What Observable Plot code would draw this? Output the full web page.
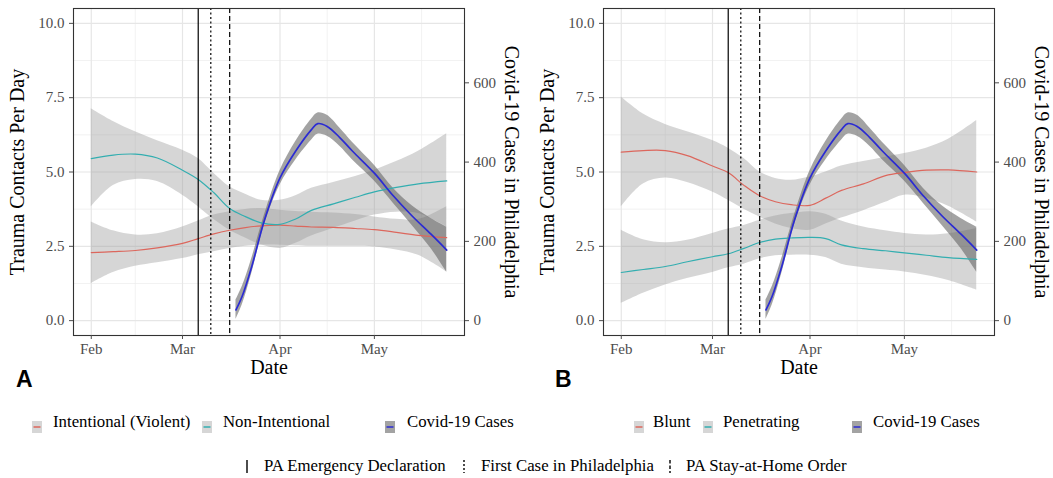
<!DOCTYPE html>
<html>
<head>
<meta charset="utf-8">
<script src="https://cdn.jsdelivr.net/npm/d3@7"></script>
<script src="https://cdn.jsdelivr.net/npm/@observablehq/plot@0.6"></script>
<style>
  html, body { margin: 0; padding: 0; background: #fff; }
  #root { position: relative; width: 1053px; height: 478px; overflow: hidden; font-family: "Liberation Serif", "Times New Roman", serif; }
  .abs { position: absolute; }
  .lbl { position: absolute; font-family: "Liberation Sans", Arial, sans-serif; font-weight: bold; font-size: 23px; line-height: normal; color: #000; }
  .legtxt { position: absolute; font-family: "Liberation Serif", "Times New Roman", serif; font-size: 16.8px; line-height: normal; color: #000; white-space: nowrap; }
</style>
</head>
<body>
<div id="root">
  <div id="panelA" class="abs" style="left:0;top:0"></div>
  <div id="panelB" class="abs" style="left:527px;top:0"></div>
  <div class="lbl" style="left:16px;top:366px">A</div>
  <div class="lbl" style="left:555px;top:366px">B</div>
  <div id="legend"></div>
</div>
<script>
// ---------- data ----------
const traumaDates = ["2020-02-01","2020-02-08","2020-02-15","2020-02-22","2020-03-01","2020-03-06","2020-03-11","2020-03-16","2020-03-21","2020-03-26","2020-04-01","2020-04-06","2020-04-11","2020-04-18","2020-04-25","2020-05-01","2020-05-08","2020-05-15","2020-05-24"];

// Panel A
const intentional    = [2.29,2.32,2.36,2.45,2.60,2.76,2.92,3.04,3.13,3.19,3.21,3.18,3.15,3.14,3.10,3.06,2.97,2.87,2.79];
const intentionalLo  = [1.25,1.62,1.83,1.95,2.09,2.22,2.32,2.43,2.50,2.54,2.54,2.52,2.50,2.50,2.50,2.48,2.38,2.20,1.64];
const intentionalHi  = [3.32,3.02,2.88,2.92,3.15,3.35,3.55,3.66,3.74,3.77,3.71,3.67,3.65,3.62,3.57,3.49,3.41,3.40,3.83];
const nonIntentional   = [5.45,5.57,5.60,5.47,5.06,4.75,4.30,3.77,3.50,3.29,3.24,3.42,3.71,3.93,4.15,4.33,4.48,4.60,4.70];
const nonIntentionalLo = [3.83,4.55,4.75,4.68,4.22,3.83,3.40,3.04,2.78,2.55,2.43,2.60,2.85,3.10,3.35,3.55,3.65,3.60,3.15];
const nonIntentionalHi = [7.13,6.70,6.35,6.05,5.73,5.45,4.95,4.50,4.25,4.05,4.05,4.20,4.45,4.65,4.85,5.06,5.35,5.70,6.29];

// Panel B
const blunt    = [5.67,5.72,5.72,5.55,5.20,4.98,4.55,4.20,4.00,3.90,3.88,4.12,4.38,4.60,4.88,4.98,5.06,5.07,5.00];
const bluntLo  = [3.83,4.60,4.80,4.65,4.33,4.05,3.75,3.49,3.25,3.10,3.04,3.25,3.45,3.70,3.98,4.22,4.12,3.85,3.32];
const bluntHi  = [7.52,6.95,6.60,6.35,6.06,5.80,5.45,5.00,4.78,4.72,4.83,5.00,5.20,5.35,5.50,5.62,5.80,6.10,6.73];
const penetrating   = [1.62,1.72,1.82,1.98,2.15,2.25,2.43,2.63,2.74,2.78,2.80,2.76,2.55,2.42,2.35,2.28,2.20,2.12,2.06];
const penetratingLo = [0.58,0.92,1.20,1.42,1.62,1.78,1.90,2.08,2.18,2.20,2.20,2.12,1.90,1.78,1.70,1.64,1.52,1.35,1.03];
const penetratingHi = [3.04,2.72,2.62,2.70,2.93,3.08,3.20,3.38,3.52,3.60,3.66,3.58,3.35,3.15,3.02,2.93,2.88,2.92,3.10];

// Covid-19 cases in Philadelphia (smoothed)
const covidDates = ["2020-03-18","2020-03-20","2020-03-23","2020-03-27","2020-04-01","2020-04-06","2020-04-11","2020-04-13","2020-04-16","2020-04-20","2020-04-24","2020-05-01","2020-05-07","2020-05-13","2020-05-19","2020-05-24"];
const covidCases = [27, 62, 136, 252, 360, 428, 482, 497, 490, 462, 428, 372, 315, 264, 218, 178];
const covidLo    = [ 3, 40, 118, 240, 342, 405, 455, 470, 465, 440, 406, 352, 296, 240, 182, 122];
const covidHi    = [52, 86, 156, 265, 378, 452, 508, 524, 518, 486, 450, 392, 334, 290, 258, 236];

// Events
const eventDates  = ["2020-03-06","2020-03-10","2020-03-16"];
const eventNames  = ["PA Emergency Declaration","First Case in Philadelphia","PA Stay-at-Home Order"];

// Scales / ticks
const yTicks      = [0, 2.5, 5, 7.5, 10];
const yMinor      = [1.25, 3.75, 6.25, 8.75];
const caseTicks   = [0, 200, 400, 600];
const CASE_SCALE  = 75;  // 1 trauma contact/day on left axis = 75 cases on right axis
const monthTicks  = ["2020-02-01","2020-03-01","2020-04-01","2020-05-01"];
const monthMinor  = ["2020-02-15","2020-03-16","2020-04-16","2020-05-16"];

// Legend labels
const seriesA = ["Intentional (Violent)", "Non-Intentional"];
const seriesB = ["Blunt", "Penetrating"];
const covidLabel = "Covid-19 Cases";
const RED = "#dc675d", CYAN = "#33aeb0", BLUE = "#2b2bd3";

// ---------- helpers ----------
const parse = s => new Date(s + "T00:00:00Z");
function traumaTable(names, vals, los, his) {
  const rows = [];
  names.forEach((name, k) => {
    traumaDates.forEach((d, i) => rows.push({group: name, date: parse(d), value: vals[k][i], lo: los[k][i], hi: his[k][i]}));
  });
  return rows;
}
const covid = covidDates.map((d, i) => ({date: parse(d), cases: covidCases[i], lo: covidLo[i], hi: covidHi[i]}));

const allDates = traumaDates.map(parse);
const [dMin, dMax] = d3.extent(allDates);
const pad = (dMax - dMin) * 0.05;
const xDomain = [new Date(+dMin - pad), new Date(+dMax + pad)];

function panel(rows, names, opts) {
  const H = 392, bottom = 335;
  const curve = "catmull-rom";
  const axisCommon = {tickSize: 4, tickPadding: 5, color: "#4d4d4d", fontSize: 15, label: null};
  return Plot.plot({
    width: opts.width, height: H,
    marginTop: 8, marginBottom: H - bottom,
    marginLeft: opts.marginLeft, marginRight: opts.marginRight,
    style: {fontFamily: "'Liberation Serif', 'Times New Roman', serif", fontSize: "15px", background: "white", color: "#000", overflow: "visible"},
    x: {type: "utc", domain: xDomain, axis: null},
    y: {domain: [-0.5, 10.5], axis: null},
    color: {domain: names, range: [RED, CYAN]},
    marks: [
      Plot.ruleY(yMinor, {stroke: "#ececec", strokeWidth: 0.7}),
      Plot.ruleX(monthMinor.map(parse), {stroke: "#ececec", strokeWidth: 0.7}),
      Plot.ruleY(yTicks, {stroke: "#e6e6e6", strokeWidth: 1.2}),
      Plot.ruleX(monthTicks.map(parse), {stroke: "#e6e6e6", strokeWidth: 1.2}),
      Plot.areaY(rows, {x: "date", y1: "lo", y2: "hi", z: "group", fill: "#999", fillOpacity: 0.4, curve}),
      Plot.areaY(covid, {x: "date", y1: d => d.lo / CASE_SCALE, y2: d => d.hi / CASE_SCALE, fill: "#666", fillOpacity: 0.6, curve}),
      Plot.line(rows, {x: "date", y: "value", z: "group", stroke: "group", strokeWidth: 1.2, curve}),
      Plot.line(covid, {x: "date", y: d => d.cases / CASE_SCALE, stroke: BLUE, strokeWidth: 1.7, curve}),
      Plot.ruleX([parse(eventDates[0])], {stroke: "#000", strokeWidth: 1.2}),
      Plot.ruleX([parse(eventDates[1])], {stroke: "#000", strokeWidth: 1.2, strokeDasharray: "2,2.5"}),
      Plot.ruleX([parse(eventDates[2])], {stroke: "#000", strokeWidth: 1.2, strokeDasharray: "5,3"}),
      Plot.frame({stroke: "#333", strokeWidth: 1.1}),
      // left axis
      Plot.axisY(yTicks, {...axisCommon, anchor: "left", tickFormat: d3.format(".1f")}),
      // right (secondary) axis
      Plot.axisY(caseTicks.map(v => v / CASE_SCALE), {...axisCommon, anchor: "right", tickFormat: d => String(Math.round(d * CASE_SCALE))}),
      // x axis
      Plot.axisX(monthTicks.map(parse), {...axisCommon, anchor: "bottom", tickPadding: 4, tickFormat: d3.utcFormat("%b")}),
      // titles
      Plot.text(["Trauma Contacts Per Day"], {frameAnchor: "left", textAnchor: "middle", rotate: -90, dx: -56, fontSize: 20, fill: "#000"}),
      Plot.text(["Covid-19 Cases in Philadelphia"], {frameAnchor: "right", textAnchor: "middle", rotate: 90, dx: 47, fontSize: 20, fill: "#000"}),
      Plot.text(["Date"], {frameAnchor: "bottom", dy: 38, fontSize: 20, fill: "#000"})
    ]
  });
}

const rowsA = traumaTable(seriesA, [intentional, nonIntentional], [intentionalLo, nonIntentionalLo], [intentionalHi, nonIntentionalHi]);
const rowsB = traumaTable(seriesB, [blunt, penetrating], [bluntLo, penetratingLo], [bluntHi, penetratingHi]);

document.getElementById("panelA").appendChild(panel(rowsA, seriesA, {width: 527, marginLeft: 73, marginRight: 63}));
document.getElementById("panelB").appendChild(panel(rowsB, seriesB, {width: 526, marginLeft: 76, marginRight: 59}));

// ---------- legends ----------
const legend = document.getElementById("legend");
function addKey(left, top, svgInner, w, h) {
  const s = document.createElementNS("http://www.w3.org/2000/svg", "svg");
  s.setAttribute("width", w); s.setAttribute("height", h);
  s.style.position = "absolute"; s.style.left = left + "px"; s.style.top = top + "px";
  s.innerHTML = svgInner;
  legend.appendChild(s);
}
function addText(left, top, text) {
  const d = document.createElement("div");
  d.className = "legtxt"; d.style.left = left + "px"; d.style.top = top + "px";
  d.textContent = text;
  legend.appendChild(d);
}
function swatch(left, color, dark) {
  const fill = dark ? "#a3a3a3" : "#d6d6d6";
  addKey(left, 421, `<rect x="0" y="0" width="10" height="12" fill="${fill}"/><line x1="1.5" x2="8.5" y1="6" y2="6" stroke="${color}" stroke-width="1.5"/>`, 10, 12);
}
const row1 = [
  {key: 32,  text: 53,  label: seriesA[0], color: RED},
  {key: 202, text: 223, label: seriesA[1], color: CYAN},
  {key: 385, text: 407, label: covidLabel, color: BLUE, dark: true},
  {key: 634, text: 653, label: seriesB[0], color: RED},
  {key: 703, text: 723, label: seriesB[1], color: CYAN},
  {key: 852, text: 873, label: covidLabel, color: BLUE, dark: true}
];
row1.forEach(r => { swatch(r.key, r.color, r.dark); addText(r.text, 412, r.label); });

const dashes = ["", "2,2", "3.5,2"];
const row2 = [{key: 244, text: 264}, {key: 461, text: 481}, {key: 667, text: 686}];
row2.forEach((r, i) => {
  addKey(r.key, 460, `<line x1="3" x2="3" y1="0" y2="13" stroke="#000" stroke-width="1.4" ${dashes[i] ? `stroke-dasharray="${dashes[i]}"` : ""}/>`, 6, 13);
  addText(r.text, 456, eventNames[i]);
});
</script>
</body>
</html>
